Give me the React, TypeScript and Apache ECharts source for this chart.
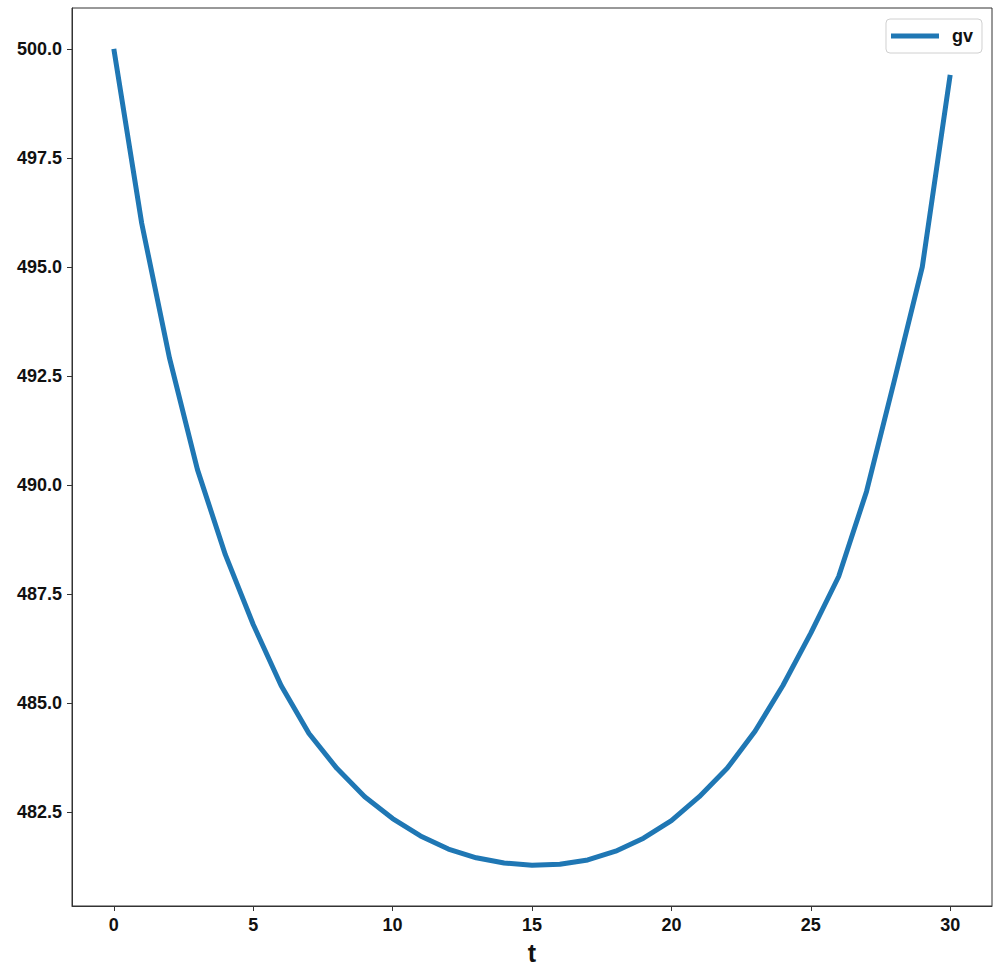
import React, { useEffect, useRef } from "react";
import * as echarts from "echarts";

const tValues = [0, 1, 2, 3, 4, 5, 6, 7, 8, 9, 10, 11, 12, 13, 14, 15, 16, 17, 18, 19, 20, 21, 22, 23, 24, 25, 26, 27, 28, 29, 30];
const gvValues = [
  500.0, 496.0, 492.9, 490.35, 488.4, 486.8, 485.4, 484.3, 483.5, 482.85,
  482.35, 481.95, 481.65, 481.45, 481.33, 481.28, 481.3, 481.4, 481.6, 481.9,
  482.3, 482.85, 483.5, 484.35, 485.4, 486.6, 487.9, 489.85, 492.4, 495.0, 499.4,
];
const xTicks = [0, 5, 10, 15, 20, 25, 30];
const yTicks = [482.5, 485.0, 487.5, 490.0, 492.5, 495.0, 497.5, 500.0];
const seriesName = "gv";
const xName = "t";

export default function App() {
  const ref = useRef<HTMLDivElement>(null);
  useEffect(() => {
    if (!ref.current) return;
    const chart = echarts.init(ref.current, null, { renderer: "svg" });
    const yMinD = Math.min(...gvValues);
    const yMaxD = Math.max(...gvValues);
    const yPad = (yMaxD - yMinD) * 0.05;
    const xMinD = Math.min(...tValues);
    const xMaxD = Math.max(...tValues);
    const xPad = (xMaxD - xMinD) * 0.05;
    const font = "'Liberation Sans', Arial, sans-serif";
    chart.setOption({
      animation: false,
      backgroundColor: "#ffffff",
      grid: {
        left: 72,
        right: 8,
        top: 8,
        bottom: 70,
        show: true,
        borderColor: "#333333",
        borderWidth: 1,
        backgroundColor: "transparent",
      },
      legend: {
        right: 18,
        top: 19,
        padding: [8, 9, 8, 5],
        borderColor: "#d0d0d0",
        borderWidth: 1,
        borderRadius: 4,
        itemWidth: 48,
        itemHeight: 5,
        icon: "rect",
        textStyle: {
          fontFamily: font,
          fontWeight: "bold",
          fontSize: 18,
          color: "#111111",
          padding: [0, 0, 0, 8],
        },
        data: [seriesName],
      },
      xAxis: {
        type: "value",
        min: xMinD - xPad,
        max: xMaxD + xPad,
        name: xName,
        nameLocation: "middle",
        nameGap: 34,
        nameTextStyle: {
          fontFamily: font,
          fontWeight: "bold",
          fontSize: 25,
          color: "#111111",
        },
        splitLine: { show: false },
        axisLine: { show: true, onZero: false, lineStyle: { color: "#333333", width: 1 } },
        axisTick: {
          show: true,
          inside: false,
          length: 5,
          lineStyle: { color: "#333333" },
          customValues: xTicks,
        },
        axisLabel: {
          fontFamily: font,
          fontWeight: "bold",
          fontSize: 18,
          color: "#111111",
          margin: 10,
          customValues: xTicks,
          formatter: (v: number) => String(v),
        },
      },
      yAxis: {
        type: "value",
        min: yMinD - yPad,
        max: yMaxD + yPad,
        splitLine: { show: false },
        axisLine: { show: true, onZero: false, lineStyle: { color: "#333333", width: 1 } },
        axisTick: {
          show: true,
          inside: false,
          length: 5,
          lineStyle: { color: "#333333" },
          customValues: yTicks,
        },
        axisLabel: {
          fontFamily: font,
          fontWeight: "bold",
          fontSize: 18,
          color: "#111111",
          margin: 10,
          customValues: yTicks,
          formatter: (v: number) => v.toFixed(1),
        },
      },
      series: [
        {
          name: seriesName,
          type: "line",
          data: tValues.map((t, i) => [t, gvValues[i]]),
          showSymbol: false,
          symbol: "none",
          lineStyle: { color: "#1f77b4", width: 5 },
          itemStyle: { color: "#1f77b4" },
        },
      ],
    });
    return () => chart.dispose();
  }, []);
  return (
    <div
      ref={ref}
      style={{ position: "fixed", left: 0, top: 0, width: 1000, height: 976, background: "#fff" }}
    />
  );
}
